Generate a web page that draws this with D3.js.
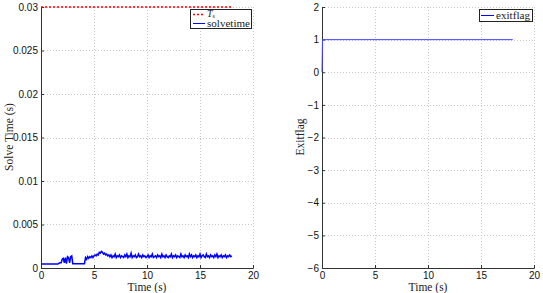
<!DOCTYPE html>
<html>
<head>
<meta charset="utf-8">
<script src="https://cdn.jsdelivr.net/npm/d3@7"></script>
<style>
  body { margin: 0; background: #fff; }
  .tick text { font-family: "Liberation Sans", Arial, sans-serif; font-size: 10px; fill: #111; }
  .lbl { font-family: "Liberation Serif", "Times New Roman", serif; font-size: 12px; fill: #222; }
</style>
</head>
<body>
<svg width="543" height="293"></svg>
<script>
// The svg
var svg = d3.select("svg");

// Data: solve time sampled every 0.1 s (in ms), exitflag, sample time Ts
var dt = 0.1;
var solveMs = [
  0.45,0.45,0.45,0.45,0.45,0.45,0.45,0.45,0.45,0.45,0.45,0.45,0.45,0.45,0.45,0.45,0.45,
  0.55,0.6,0.6,
  1.0,1.1,0.6,1.2,0.5,1.3,1.2,0.6,1.3,1.4,0.5,
  0.5,0.5,0.5,0.5,0.5,0.5,0.5,0.5,0.5,0.5,0.5,
  1.2,1.0,1.3,1.1,1.3,1.2,1.4,1.2,1.4,1.5,1.4,1.6,1.5,1.8,1.7,1.9,1.8,1.6,1.7,1.5,1.6,1.4,1.5,
  1.3,1.5,1.2,1.4,1.3,1.6,1.2,1.4,1.3,1.5,1.2,1.4,
  1.3,1.2,1.5,1.3,1.6,1.2,1.4,1.3,1.7,1.2,1.4,1.3,
  1.5,1.2,1.3,1.6,1.3,1.4,1.2,1.5,1.3,1.4,1.2,1.3,
  1.5,1.2,1.4,1.3,1.6,1.2,1.3,1.4,1.2,1.5,1.3,1.4,
  1.2,1.6,1.3,1.4,1.2,1.5,1.3,1.2,1.4,1.3,1.6,1.2,
  1.4,1.3,1.5,1.2,1.4,1.3,1.2,1.6,1.3,1.4,1.2,1.5,
  1.3,1.4,1.2,1.6,1.3,1.5,1.2,1.4,1.3,1.5,1.2,1.4,
  1.3,1.6,1.2,1.4,1.5,1.3,1.2,1.6,1.3,1.4,1.2,1.5,
  1.3,1.4,1.2,1.5,1.3,1.6,1.2,1.4,1.3,1.5,1.2,1.4,
  1.3,1.5,1.2,1.4,1.3,1.5,1.3,1.4
];
var tsTime = [0, 18];
var tsValue = [0.03, 0.03];
var exitTime = [0, 0.05, 18];
var exitValue = [0, 1, 1];

var xTicks = [0, 5, 10, 15, 20];
var solveTicks = [0, 0.005, 0.01, 0.015, 0.02, 0.025, 0.03];
var exitTicks = [-6, -5, -4, -3, -2, -1, 0, 1, 2];

var solveData = solveMs.map((v, i) => ({ t: i * dt, v: v / 1000 }));
var tsData = tsTime.map((t, i) => ({ t: t, v: tsValue[i] }));
var exitData = exitTime.map((t, i) => ({ t: t, v: exitValue[i] }));

// Draw one axes box in MATLAB style
function panel(x0, x1, yDomain, yTicks, yFmt, yLabel, yLabelX) {
  var x = d3.scaleLinear().domain([0, 20]).range([x0, x1]);
  var y = d3.scaleLinear().domain(yDomain).range([268, 7]);
  var g = svg.append("g");

  // grid
  g.selectAll(".gx").data(xTicks.slice(1)).enter().append("line")
    .attr("x1", d => x(d) + 0.5).attr("x2", d => x(d) + 0.5)
    .attr("y1", 7).attr("y2", 268)
    .style("stroke", "#c8c8c8").style("stroke-dasharray", "1,2");
  g.selectAll(".gy").data(yTicks.slice(1)).enter().append("line")
    .attr("x1", x0).attr("x2", x1)
    .attr("y1", d => Math.round(y(d)) + 0.5).attr("y2", d => Math.round(y(d)) + 0.5)
    .style("stroke", "#c8c8c8").style("stroke-dasharray", "1,2");

  // axes
  var ax = g.append("g").attr("transform", "translate(0,268)")
    .call(d3.axisBottom(x).tickValues(xTicks).tickSize(-3).tickPadding(4).tickFormat(d3.format("d")));
  var ay = g.append("g").attr("transform", "translate(" + x0 + ",0)")
    .call(d3.axisLeft(y).tickValues(yTicks).tickSize(-3).tickPadding(3).tickFormat(yFmt));
  [ax, ay].forEach(a => {
    a.select(".domain").style("stroke", "#333");
    a.selectAll(".tick line").style("stroke", "#333");
  });

  g.append("text").attr("class", "lbl")
    .attr("x", (x0 + x1) / 2).attr("y", 291)
    .attr("text-anchor", "middle").style("font-size", "11.5px").text("Time (s)");
  g.append("text").attr("class", "lbl")
    .attr("transform", "translate(" + yLabelX + ",137) rotate(-90)")
    .attr("text-anchor", "middle").style("font-size", "11.5px").text(yLabel);

  return { x: x, y: y, g: g };
}

// Left: solve time
var p1 = panel(41, 253, [0, 0.03], solveTicks,
  d => d === 0 ? "0" : d3.format("")(+d.toFixed(3)), "Solve Time (s)", 13);
var line1 = d3.line().x(d => p1.x(d.t)).y(d => p1.y(d.v));
p1.g.append("path").attr("d", line1(solveData))
  .style("fill", "none").style("stroke", "#0000ff").style("stroke-width", 1.5);
p1.g.append("path").attr("d", line1(tsData))
  .style("fill", "none").style("stroke", "#ff0000").style("stroke-width", 1.5)
  .style("stroke-dasharray", "2,2");

// legend left
var lg1 = p1.g.append("g");
lg1.append("rect").attr("x", 190.5).attr("y", 9.5).attr("width", 61).attr("height", 19)
  .style("fill", "#fff").style("stroke", "#222");
lg1.append("line").attr("x1", 193).attr("x2", 205).attr("y1", 14.5).attr("y2", 14.5)
  .style("stroke", "#ff0000").style("stroke-width", 1.5).style("stroke-dasharray", "2,2");
lg1.append("line").attr("x1", 193).attr("x2", 205).attr("y1", 23.5).attr("y2", 23.5)
  .style("stroke", "#0000ff");
var tsLbl = lg1.append("text").attr("class", "lbl").attr("x", 207).attr("y", 16.5)
  .style("font-size", "10px");
tsLbl.append("tspan").style("font-style", "italic").text("T");
tsLbl.append("tspan").attr("dy", 1.5).style("font-size", "6px").text("s");
lg1.append("text").attr("class", "lbl").attr("x", 207).attr("y", 27)
  .style("font-size", "10px").attr("textLength", 43).attr("lengthAdjust", "spacingAndGlyphs")
  .text("solvetime");

// Right: exitflag
var p2 = panel(322, 534, [-6, 2], exitTicks,
  d => d < 0 ? "\u2212" + Math.abs(d) : d, "Exitflag", 304);
var line2 = d3.line().x(d => p2.x(d.t)).y(d => p2.y(d.v));
p2.g.append("path").attr("d", line2(exitData))
  .style("fill", "none").style("stroke", "#4444ff").style("stroke-width", 1);

// legend right
var lg2 = p2.g.append("g");
lg2.append("rect").attr("x", 479.5).attr("y", 9.5).attr("width", 53).attr("height", 12)
  .style("fill", "#fff").style("stroke", "#222");
lg2.append("line").attr("x1", 481).attr("x2", 494).attr("y1", 15.5).attr("y2", 15.5)
  .style("stroke", "#0000ff");
lg2.append("text").attr("class", "lbl").attr("x", 496).attr("y", 19)
  .style("font-size", "11px").attr("textLength", 34).attr("lengthAdjust", "spacingAndGlyphs")
  .text("exitflag");
</script>
</body>
</html>
